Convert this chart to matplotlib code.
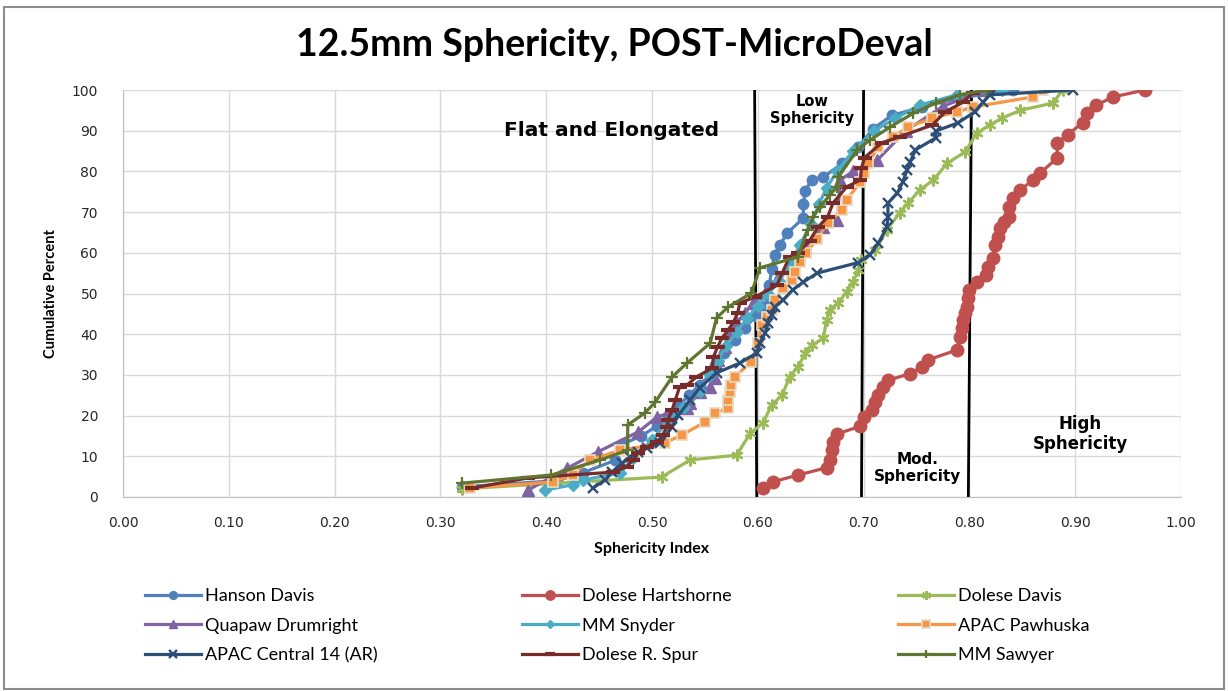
import numpy as np
import matplotlib
matplotlib.use("Agg")
from matplotlib import pyplot as plt
from matplotlib.patches import Rectangle

# cumulative curves: sphericity index vs cumulative percent
hanson_x = [0.320, 0.410, 0.435, 0.465, 0.472, 0.490, 0.505, 0.515, 0.525, 0.535, 0.545, 0.555,
            0.560, 0.568, 0.578, 0.588, 0.598, 0.608, 0.611, 0.613, 0.616, 0.621, 0.628, 0.643,
            0.643, 0.645, 0.651, 0.662, 0.680, 0.695, 0.709, 0.727, 0.755, 0.790, 0.841]
hanson_y = [2.5, 4.0, 6.0, 9.0, 13.0, 15.0, 17.5, 20.0, 22.5, 25.0, 27.5, 30.0,
            32.5, 35.5, 38.5, 41.5, 44.5, 47.0, 52.0, 56.0, 59.5, 62.0, 64.9, 68.5,
            72.0, 75.2, 78.0, 78.6, 82.0, 86.0, 90.5, 93.8, 95.8, 98.0, 100.0]

hartshorne_x = [0.605, 0.614, 0.638, 0.665, 0.668, 0.670, 0.671, 0.675, 0.697, 0.700, 0.708, 0.711,
                0.714, 0.718, 0.723, 0.744, 0.755, 0.761, 0.788, 0.791, 0.793, 0.794, 0.796, 0.798,
                0.799, 0.800, 0.807, 0.816, 0.818, 0.822, 0.824, 0.827, 0.829, 0.833, 0.837, 0.837,
                0.841, 0.848, 0.860, 0.867, 0.883, 0.883, 0.893, 0.907, 0.911, 0.920, 0.936, 0.966]
hartshorne_y = [2.2, 3.7, 5.4, 7.2, 9.2, 11.5, 13.5, 15.5, 17.4, 19.6, 21.4, 23.3,
                25.0, 27.0, 28.7, 30.3, 32.0, 33.7, 36.1, 39.3, 41.5, 43.5, 45.2, 46.8,
                48.9, 50.9, 52.8, 54.5, 56.5, 58.7, 62.0, 63.9, 66.0, 67.5, 68.8, 71.3,
                73.4, 75.4, 77.9, 79.6, 83.3, 87.0, 89.0, 92.0, 94.3, 96.3, 98.3, 100.0]

dolese_davis_x = [0.320, 0.509, 0.536, 0.580, 0.593, 0.605, 0.613, 0.623, 0.630, 0.638, 0.645, 0.651,
                  0.662, 0.665, 0.668, 0.676, 0.684, 0.690, 0.695, 0.698, 0.711, 0.722, 0.734, 0.742,
                  0.753, 0.766, 0.779, 0.796, 0.807, 0.819, 0.831, 0.848, 0.879, 0.888]
dolese_davis_y = [2.0, 4.9, 9.1, 10.3, 15.7, 18.2, 22.6, 25.0, 29.5, 32.0, 35.4, 37.3,
                  39.0, 43.5, 46.0, 47.7, 50.4, 52.8, 55.8, 58.2, 60.7, 65.6, 69.8, 72.2,
                  75.4, 77.9, 82.0, 84.8, 89.4, 91.4, 93.1, 95.0, 96.8, 100.0]

quapaw_x = [0.383, 0.420, 0.449, 0.487, 0.505, 0.533, 0.536, 0.545, 0.555, 0.560, 0.562, 0.569,
            0.572, 0.580, 0.588, 0.595, 0.607, 0.618, 0.628, 0.645, 0.662, 0.675, 0.678, 0.690,
            0.713, 0.740, 0.775, 0.815]
quapaw_y = [1.7, 7.1, 11.1, 16.0, 19.7, 21.9, 23.0, 25.8, 27.0, 29.2, 33.7, 36.9,
            40.3, 42.8, 45.2, 47.7, 50.1, 53.5, 56.5, 61.5, 66.3, 68.0, 77.9, 80.0,
            82.8, 90.0, 96.0, 100.0]

snyder_x = [0.399, 0.425, 0.435, 0.470, 0.482, 0.500, 0.515, 0.530, 0.545, 0.555, 0.562, 0.570,
            0.580, 0.590, 0.600, 0.610, 0.620, 0.630, 0.640, 0.650, 0.658, 0.665, 0.675, 0.690,
            0.710, 0.730, 0.753, 0.788, 0.831]
snyder_y = [1.7, 3.0, 4.2, 5.9, 9.6, 14.0, 18.5, 22.0, 26.0, 30.0, 33.5, 37.0,
            40.5, 44.0, 47.0, 50.0, 53.0, 57.0, 62.0, 67.0, 72.0, 76.0, 80.0, 85.0,
            90.0, 93.0, 96.3, 98.8, 100.0]

pawhuska_x = [0.328, 0.406, 0.425, 0.441, 0.470, 0.512, 0.528, 0.550, 0.560, 0.572, 0.572, 0.574,
              0.575, 0.578, 0.594, 0.600, 0.604, 0.609, 0.613, 0.616, 0.624, 0.632, 0.635, 0.640,
              0.646, 0.656, 0.666, 0.680, 0.684, 0.697, 0.700, 0.704, 0.714, 0.728, 0.742, 0.765,
              0.788, 0.803, 0.860, 0.870]
pawhuska_y = [2.2, 3.7, 5.4, 9.1, 11.5, 13.3, 15.2, 18.4, 20.6, 21.9, 23.8, 25.8,
              27.5, 29.5, 33.2, 37.8, 42.3, 44.2, 45.9, 48.4, 51.4, 53.3, 55.3, 57.7,
              60.0, 63.5, 67.3, 70.5, 73.0, 77.4, 79.6, 82.0, 86.0, 88.5, 90.9, 93.1,
              94.6, 95.8, 98.3, 100.0]

central_x = [0.444, 0.456, 0.462, 0.472, 0.479, 0.487, 0.495, 0.508, 0.519, 0.525, 0.536, 0.545,
             0.561, 0.583, 0.599, 0.602, 0.607, 0.610, 0.613, 0.616, 0.624, 0.633, 0.643, 0.656,
             0.695, 0.706, 0.714, 0.722, 0.723, 0.723, 0.732, 0.737, 0.741, 0.744, 0.749, 0.768,
             0.768, 0.789, 0.805, 0.813, 0.819, 0.898]
central_y = [2.2, 4.2, 6.1, 8.3, 9.8, 11.1, 12.0, 13.3, 17.2, 20.1, 23.8, 26.8,
             30.5, 32.9, 35.4, 37.8, 40.3, 42.8, 44.7, 46.7, 48.4, 50.9, 52.8, 55.0,
             57.6, 59.5, 62.4, 66.3, 68.8, 72.2, 74.7, 77.4, 80.3, 82.3, 85.3, 88.2,
             89.9, 91.9, 94.6, 97.0, 98.8, 100.0]

rspur_x = [0.330, 0.383, 0.463, 0.476, 0.482, 0.487, 0.495, 0.505, 0.510, 0.514, 0.515, 0.519,
           0.522, 0.526, 0.533, 0.542, 0.557, 0.558, 0.562, 0.566, 0.572, 0.577, 0.581, 0.583,
           0.597, 0.618, 0.623, 0.630, 0.638, 0.649, 0.657, 0.666, 0.671, 0.684, 0.697, 0.698,
           0.701, 0.717, 0.734, 0.765, 0.777, 0.794, 0.803, 0.817]
rspur_y = [2.2, 4.7, 6.1, 7.4, 9.1, 10.8, 12.3, 13.5, 15.2, 17.2, 18.9, 21.4,
           23.8, 27.0, 27.5, 29.5, 31.7, 34.4, 36.9, 39.0, 41.0, 43.0, 45.2, 47.7,
           49.1, 52.0, 55.0, 59.0, 60.0, 63.0, 66.3, 68.8, 72.2, 76.2, 77.9, 80.8,
           83.4, 87.0, 88.5, 91.4, 94.6, 97.0, 99.2, 100.0]

sawyer_x = [0.320, 0.405, 0.451, 0.477, 0.477, 0.493, 0.503, 0.519, 0.533, 0.555, 0.561, 0.572,
            0.594, 0.602, 0.638, 0.647, 0.652, 0.659, 0.668, 0.675, 0.676, 0.694, 0.706, 0.725,
            0.747, 0.768, 0.791, 0.817]
sawyer_y = [3.4, 5.4, 9.1, 11.5, 17.7, 20.6, 23.3, 29.5, 32.9, 37.8, 44.0, 46.7,
            50.1, 56.3, 59.0, 65.6, 68.8, 71.3, 74.2, 76.2, 78.6, 85.3, 87.7, 90.9,
            94.3, 96.8, 98.8, 100.0]

# class boundaries (x at top, x at bottom) - drawn slightly skewed like the original
boundaries = [(0.597, 0.599), (0.700, 0.698), (0.802, 0.799)]

x_ticks = [0.0, 0.1, 0.2, 0.3, 0.4, 0.5, 0.6, 0.7, 0.8, 0.9, 1.0]
y_ticks = [0, 10, 20, 30, 40, 50, 60, 70, 80, 90, 100]

series = [
    ("Hanson Davis", hanson_x, hanson_y, "#4F81BD", dict(marker="o", ms=7.5)),
    ("Dolese Hartshorne", hartshorne_x, hartshorne_y, "#C0504D", dict(marker="o", ms=9)),
    ("Dolese Davis", dolese_davis_x, dolese_davis_y, "#9BBB59", dict(marker=(6, 2, 0), ms=8.5, mew=1.6)),
    ("Quapaw Drumright", quapaw_x, quapaw_y, "#8064A2", dict(marker="^", ms=8)),
    ("MM Snyder", snyder_x, snyder_y, "#4BACC6", dict(marker="D", ms=6)),
    ("APAC Pawhuska", pawhuska_x, pawhuska_y, "#F79646", dict(marker="s", ms=7.5, mec="#E6DCC3", mew=1.2)),
    ("APAC Central 14 (AR)", central_x, central_y, "#2C4D75", dict(marker="x", ms=7.5, mew=1.7)),
    ("Dolese R. Spur", rspur_x, rspur_y, "#772C2A", dict(marker="_", ms=10, mew=3)),
    ("MM Sawyer", sawyer_x, sawyer_y, "#5F7530", dict(marker="+", ms=8.5, mew=1.6)),
]

W, H = 1228, 691
fig = plt.figure(figsize=(W / 100, H / 100), dpi=100)
fig.patches.append(Rectangle((4 / W, 2 / H), 1 - 8 / W, 1 - 9 / H, transform=fig.transFigure,
                             fill=False, edgecolor="#8C8C8C", lw=1.5))

ax = fig.add_axes([123 / W, 1 - 497 / H, (1181 - 123) / W, (497 - 90) / H])

handles = []
for name, xs, ys, col, mk in series:
    mk = dict(mk)
    mk.setdefault("mec", col)
    h, = ax.plot(xs, ys, color=col, lw=2.3, mfc=col, label=name, zorder=3, **mk)
    handles.append(h)

for top, bot in boundaries:
    ax.plot([bot, top], [0, 100], color="black", lw=2, zorder=2)

ax.set_xlim(0, 1)
ax.set_ylim(0, 100)
ax.set_xticks(x_ticks)
ax.set_yticks(y_ticks)
ax.set_xticklabels(["%.2f" % v for v in x_ticks])
ax.grid(True, color="#D9D9D9", lw=1)
ax.set_axisbelow(True)
ax.tick_params(length=0, labelsize=10, labelcolor="#262626")
ax.tick_params(axis="x", pad=14)
ax.tick_params(axis="y", pad=18)
for s in ["top", "right"]:
    ax.spines[s].set_visible(False)
for s in ["left", "bottom"]:
    ax.spines[s].set_color("#BFBFBF")

ax.set_xlabel("Sphericity Index", fontfamily="Lato", fontweight="bold", fontsize=11.5, labelpad=8)
ax.set_ylabel("Cumulative Percent", fontfamily="Lato", fontweight="bold", fontsize=10.5, labelpad=10)

fig.text(0.5, 1 - 45 / H, "12.5mm Sphericity, POST-MicroDeval", ha="center", va="center",
         fontfamily="Lato", fontweight="bold", fontsize=27)

ax.text(0.462, 90, "Flat and Elongated", ha="center", va="center", fontsize=14.5, fontweight="bold")
ax.text(0.651, 95, "Low\nSphericity", ha="center", va="center", fontsize=10.5, fontweight="bold",
        linespacing=1.15)
ax.text(0.751, 7.2, "Mod.\nSphericity", ha="center", va="center", fontsize=11, fontweight="bold",
        linespacing=1.15)
ax.text(0.905, 15.5, "High\nSphericity", ha="center", va="center", fontsize=12, fontweight="bold",
        linespacing=1.15)

# legend: three columns placed like the excel one
col_x = [145, 522, 898]
for k in range(3):
    leg = fig.legend(handles=handles[k::3], loc="upper left",
                     bbox_to_anchor=(col_x[k] / W, 1 - 588 / H), bbox_transform=fig.transFigure,
                     frameon=False, borderpad=0, borderaxespad=0, handlelength=3.1,
                     handletextpad=0.25, labelspacing=0.75, prop={"family": "Lato", "size": 13})
    for line in leg.get_lines():
        line.set_markersize(line.get_markersize() * 0.75)

fig.savefig("out.png", dpi=100)
